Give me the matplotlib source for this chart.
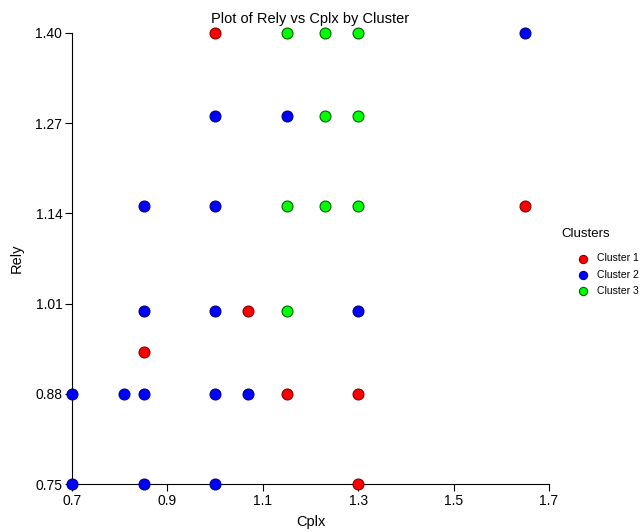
import matplotlib
matplotlib.use("Agg")
import matplotlib.pyplot as plt

plt.rcParams["font.family"] = ["Liberation Sans", "DejaVu Sans"]

# Cluster memberships (Cplx, Rely)
c1_x = [1.00, 1.65, 1.07, 0.85, 1.15, 1.30, 1.30]
c1_y = [1.40, 1.15, 1.00, 0.94, 0.88, 0.88, 0.75]

c2_x = [1.65, 1.00, 1.15, 0.85, 1.00, 0.85, 1.00, 1.30,
        0.70, 0.81, 0.85, 1.00, 1.07, 0.70, 0.85, 1.00]
c2_y = [1.40, 1.28, 1.28, 1.15, 1.15, 1.00, 1.00, 1.00,
        0.88, 0.88, 0.88, 0.88, 0.88, 0.75, 0.75, 0.75]

c3_x = [1.15, 1.23, 1.30, 1.23, 1.30, 1.15, 1.23, 1.30, 1.15]
c3_y = [1.40, 1.40, 1.40, 1.28, 1.28, 1.15, 1.15, 1.15, 1.00]

labels = ["Cluster 1", "Cluster 2", "Cluster 3"]
fills = ["#ff0000", "#0000ff", "#00ff00"]
edges = ["#800000", "#000080", "#006000"]

x_ticks = [0.7, 0.9, 1.1, 1.3, 1.5, 1.7]
y_ticks = [0.75, 0.88, 1.01, 1.14, 1.27, 1.40]

fig = plt.figure(figsize=(6.41, 5.32), dpi=100)
ax = fig.add_axes([0.1123, 0.0902, 0.7442, 0.8478])

for xs, ys, lab, fc, ec in zip([c1_x, c2_x, c3_x], [c1_y, c2_y, c3_y], labels, fills, edges):
    ax.scatter(xs, ys, s=62, c=fc, edgecolors=ec, linewidths=0.8,
               label=lab, clip_on=False, zorder=3)

ax.set_xlim(0.7, 1.7)
ax.set_ylim(0.75, 1.40)
ax.set_xticks(x_ticks)
ax.set_xticklabels([f"{v:.1f}" for v in x_ticks])
ax.set_yticks(y_ticks)
ax.set_yticklabels([f"{v:.2f}" for v in y_ticks])
ax.spines["top"].set_visible(False)
ax.spines["right"].set_visible(False)
ax.tick_params(direction="out", length=5, width=0.8, labelsize=10, pad=2)

ax.set_xlabel("Cplx", fontsize=10.5)
ax.xaxis.set_label_coords(0.5, -0.069)
ax.set_ylabel("Rely", fontsize=10.5)
ax.yaxis.set_label_coords(-0.102, 0.5)
ax.set_title("Plot of Rely vs Cplx by Cluster", fontsize=10.5, pad=7)

ax.text(1.077, 0.554, "Clusters", transform=ax.transAxes, fontsize=9.5,
        ha="center", va="center")
ax.legend(loc="center left", bbox_to_anchor=(1.03, 0.464),
          frameon=False, fontsize=7.5, handletextpad=0.3,
          markerscale=0.75, labelspacing=0.62)

fig.savefig("out.png", dpi=100)
